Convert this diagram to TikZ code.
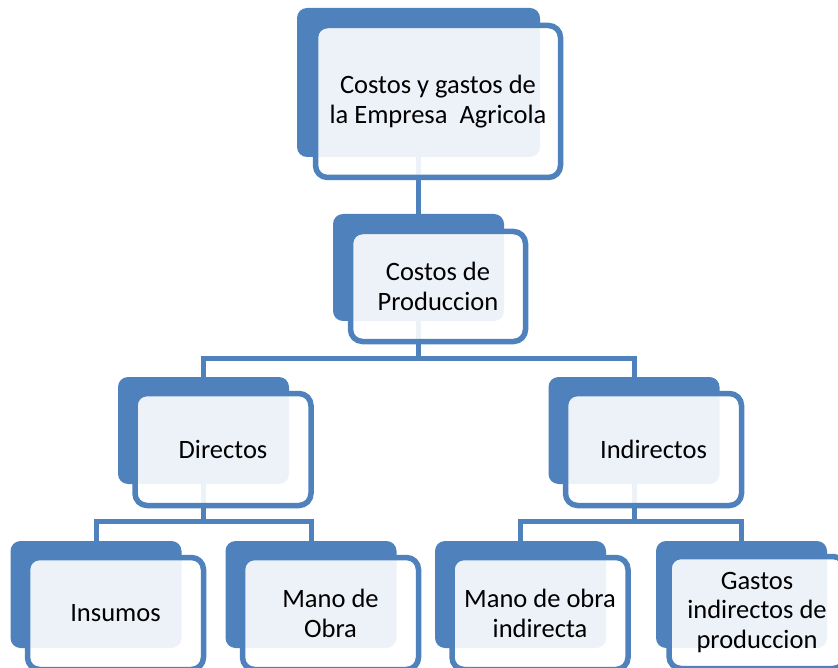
\documentclass[tikz,border=0pt]{standalone}
\usepackage{fontspec}
\setmainfont{Carlito}
\definecolor{azul}{RGB}{79,129,189}
\begin{document}
\begin{tikzpicture}[x=1pt,y=-1pt,
			back node/.style={rounded corners=10pt,fill=azul,inner sep=0pt,minimum width=171pt,minimum height=107pt},
			front node/.style={rounded corners=12pt,draw=azul,line width=5.5pt,fill=white,fill opacity=0.9,text opacity=1,
				inner sep=0pt,minimum width=176pt,minimum height=112pt,align=center,font=\fontsize{26.5}{29.5}\selectfont},
			link/.style={draw=azul,line width=5pt}
			]

			\def \dx {19.5};
			\def \dy {19};

			\clip (0,0) rectangle (838,668);

			% fondos
			\node[back node,minimum width=243pt,minimum height=149pt] at (418.5,82.5) (emp) {};
			\node[back node] at (418.5,267.5) (prod) {};
			\node[back node] at (203.5,430.5) (dir) {};
			\node[back node] at (634,430.5) (ind) {};
			\node[back node] at (96,594.5) (ins) {};
			\node[back node] at (311,594.5) (mo) {};
			\node[back node] at (520.5,594.5) (moi) {};
			\node[back node] at (741.5,594.5) (gip) {};

			% conectores
			\draw[link] (emp.south) -- (prod.north);
			\draw[link] (prod.south) -- ++(0,37) coordinate (b1);
			\draw[link] (dir.north) |- (b1) -| (ind.north);
			\draw[link] (dir.south) -- ++(0,37) coordinate (b2);
			\draw[link] (ins.north) |- (b2) -| (mo.north);
			\draw[link] (ind.south) -- ++(0,37) coordinate (b3);
			\draw[link] (moi.north) |- (b3) -| (gip.north);

			% cajas
			\node[front node,minimum width=245pt,minimum height=152pt] at ([shift={(\dx,\dy)}]emp.center) (empT) {Costos y gastos de\\la Empresa~ Agricola};
			\node[front node,minimum width=175pt,minimum height=110pt] at ([shift={(\dx,\dy)}]prod.center) (prodT) {Costos de\\Produccion};
			\node[front node] at ([shift={(\dx,\dy)}]dir.center) (dirT) {Directos};
			\node[front node] at ([shift={(\dx,\dy)}]ind.center) (indT) {Indirectos};
			\node[front node] at ([shift={(\dx,\dy)}]ins.center) (insT) {Insumos};
			\node[front node] at ([shift={(\dx,\dy)}]mo.center) (moT) {Mano de\\Obra};
			\node[front node] at ([shift={(\dx,\dy)}]moi.center) (moiT) {Mano de obra\\indirecta};
			\node[front node] at ([shift={(\dx-4,\dy-1)}]gip.center) (gipT) {Gastos\\indirectos de\\produccion};
		\end{tikzpicture}
\end{document}
